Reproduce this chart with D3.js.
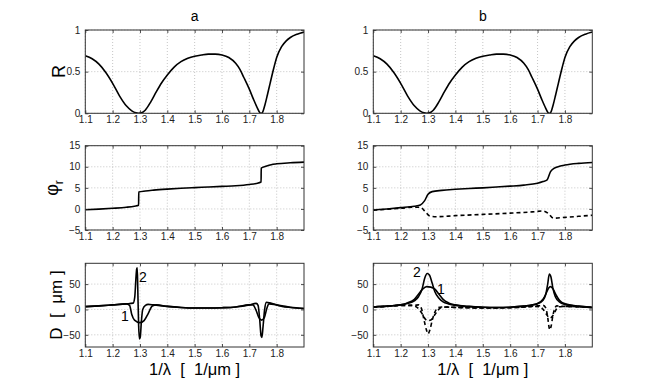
<!DOCTYPE html>
<html>
<head>
<meta charset="utf-8">
<script src="https://cdn.jsdelivr.net/npm/d3@7"></script>
<style>
  html, body { margin: 0; padding: 0; background: #fff; }
  svg { display: block; font-family: "Liberation Sans", Arial, Helvetica, sans-serif; }
  .pre { white-space: pre; }
</style>
</head>
<body>
<svg id="chart" width="654" height="391"></svg>
<script>
// ---------------- data ----------------
const xTicks = [1.1, 1.2, 1.3, 1.4, 1.5, 1.6, 1.7, 1.8];
const rTicks = [0, 0.5, 1];
const phiTicks = [-5, 0, 5, 10, 15];
const dTicks = [-50, 0, 50];
const panelTitles = ["a", "b"];

// reflectance R (same in a and b)
const reflect = [[1.100,0.69],[1.125,0.655],[1.150,0.59],[1.175,0.49],[1.200,0.36],[1.225,0.21],[1.250,0.09],[1.270,0.03],[1.285,0.005],[1.295,0.0],[1.305,0.005],[1.320,0.04],[1.340,0.14],[1.360,0.26],[1.380,0.37],[1.400,0.46],[1.425,0.555],[1.450,0.62],[1.475,0.66],[1.500,0.685],[1.525,0.70],[1.550,0.71],[1.575,0.71],[1.600,0.70],[1.625,0.67],[1.650,0.60],[1.665,0.53],[1.680,0.43],[1.700,0.29],[1.715,0.17],[1.730,0.06],[1.738,0.01],[1.743,0.0],[1.748,0.01],[1.757,0.10],[1.766,0.22],[1.776,0.36],[1.790,0.55],[1.800,0.67],[1.818,0.80],[1.835,0.87],[1.850,0.91],[1.875,0.95],[1.900,0.975]];

// phase, panel a (jumps)
const phiA = [[1.100,-0.2],[1.150,-0.05],[1.200,0.15],[1.250,0.4],[1.280,0.65],[1.2950,0.85],[1.2955,4.0],[1.320,4.25],[1.350,4.45],[1.400,4.7],[1.450,4.9],[1.500,5.05],[1.550,5.2],[1.600,5.35],[1.650,5.5],[1.700,5.8],[1.725,6.05],[1.7430,6.4],[1.7435,9.7],[1.760,10.1],[1.780,10.5],[1.800,10.7],[1.850,10.95],[1.900,11.1]];
// phase, panel b solid and dashed
const phiB = [[1.100,-0.25],[1.150,0.0],[1.200,0.3],[1.250,0.65],[1.272,0.95],[1.287,1.9],[1.300,3.5],[1.315,4.1],[1.350,4.4],[1.400,4.65],[1.450,4.85],[1.500,5.0],[1.550,5.2],[1.600,5.4],[1.650,5.65],[1.700,6.1],[1.720,6.5],[1.735,6.9],[1.747,8.8],[1.760,9.6],[1.780,10.1],[1.800,10.4],[1.850,10.8],[1.900,11.0]];
const phiBdash = [[1.100,-0.3],[1.150,-0.1],[1.200,0.15],[1.250,0.4],[1.272,0.4],[1.290,-0.65],[1.307,-1.7],[1.330,-1.85],[1.400,-1.6],[1.500,-1.3],[1.600,-1.0],[1.680,-0.7],[1.720,-0.5],[1.740,-1.1],[1.758,-2.2],[1.800,-2.0],[1.850,-1.75],[1.900,-1.5]];

// D, panel a
const dA1 = [[1.100,5.5],[1.150,7],[1.200,9],[1.250,11],[1.262,8],[1.270,-10],[1.280,-21],[1.300,-26],[1.315,-22],[1.330,-8],[1.345,7],[1.360,9],[1.400,6],[1.450,4],[1.500,3],[1.550,3],[1.600,3.5],[1.650,5],[1.700,9],[1.713,9],[1.725,-2],[1.735,-16],[1.745,-21],[1.755,-16],[1.764,2],[1.772,11],[1.790,10],[1.820,6],[1.850,4],[1.900,2]];
const dA2 = [[1.100,5.5],[1.150,7],[1.200,9],[1.250,11],[1.275,12.5],[1.281,25],[1.285,60],[1.288,80],[1.290,82],[1.292,40],[1.295,-30],[1.298,-58],[1.301,-55],[1.305,-25],[1.310,0],[1.320,8],[1.330,10],[1.350,9],[1.400,6],[1.450,4],[1.500,3],[1.550,3],[1.600,3.5],[1.650,5],[1.700,9],[1.725,12],[1.732,8],[1.738,-20],[1.743,-52],[1.746,-55],[1.750,-35],[1.756,0],[1.762,14],[1.775,13],[1.800,9],[1.850,4.5],[1.900,2]];

// D, panel b (solid peaks and dashed dips)
const dB1 = [[1.100,5],[1.150,6.5],[1.200,9],[1.225,13],[1.250,20],[1.265,30],[1.280,40],[1.295,45],[1.310,44],[1.325,40],[1.340,30],[1.355,20],[1.375,13],[1.400,9],[1.450,6],[1.500,4.5],[1.550,4],[1.600,4.5],[1.650,6.5],[1.700,12],[1.720,20],[1.730,30],[1.740,42],[1.748,45],[1.757,40],[1.768,28],[1.780,18],[1.800,11],[1.850,6.5],[1.900,4]];
const dB2 = [[1.100,5],[1.150,6.5],[1.200,9],[1.225,12],[1.250,17],[1.265,25],[1.278,40],[1.288,62],[1.297,71],[1.305,68],[1.315,52],[1.325,35],[1.340,22],[1.355,15],[1.375,11],[1.400,8],[1.450,5.5],[1.500,4.5],[1.550,4],[1.600,4.5],[1.650,6.5],[1.700,11],[1.720,18],[1.730,30],[1.737,50],[1.743,70],[1.749,64],[1.756,42],[1.765,25],[1.780,15],[1.800,10],[1.850,6],[1.900,4]];
const dB1dash = [[1.100,5],[1.150,6],[1.200,8],[1.240,8],[1.255,6],[1.268,0],[1.280,-10],[1.290,-19],[1.300,-22],[1.310,-21],[1.320,-14],[1.332,-5],[1.345,3],[1.370,5],[1.400,4],[1.500,3],[1.600,3.5],[1.690,6],[1.710,5],[1.722,-1],[1.733,-10],[1.745,-17],[1.755,-13],[1.765,-3],[1.775,5],[1.800,6],[1.900,4]];
const dB2dash = [[1.100,5],[1.150,6],[1.200,8],[1.250,8],[1.265,9],[1.275,3],[1.285,-20],[1.295,-42],[1.300,-48],[1.307,-40],[1.315,-22],[1.325,-5],[1.335,3],[1.350,5],[1.400,4],[1.500,3],[1.600,3.5],[1.700,7],[1.720,8],[1.730,3],[1.737,-15],[1.742,-35],[1.745,-40],[1.750,-32],[1.756,-12],[1.763,2],[1.770,7],[1.800,6],[1.900,4]];

// ---------------- layout ----------------
const svg = d3.select("#chart");
const cols = [[85.3, 304.0], [373.3, 592.3]];
const rows = [[30.0, 113.3], [145.7, 230.0], [263.3, 347.0]];
const xDomain = [1.1, 1.9];
const yDomains = [[0, 1], [-5, 15], [-74, 91]];
const yTickSets = [rTicks, phiTicks, dTicks];
const fmt = d => d < 0 ? "\u2212" + Math.abs(d) : String(d);

const panels = [
  {c:0, r:0, series:[{d:reflect}]},
  {c:1, r:0, series:[{d:reflect}]},
  {c:0, r:1, series:[{d:phiA}]},
  {c:1, r:1, series:[{d:phiB},{d:phiBdash, dash:true}]},
  {c:0, r:2, series:[{d:dA1},{d:dA2}]},
  {c:1, r:2, series:[{d:dB1},{d:dB2},{d:dB1dash, dash:true},{d:dB2dash, dash:true}]}
];

panels.forEach((p, i) => {
  const [x0, x1] = cols[p.c];
  const [y0, y1] = rows[p.r];
  const x = d3.scaleLinear().domain(xDomain).range([x0, x1]);
  const y = d3.scaleLinear().domain(yDomains[p.r]).range([y1, y0]);
  const g = svg.append("g");
  const yt = yTickSets[p.r];

  // grid
  g.selectAll(".gx").data(xTicks).join("line")
    .attr("x1", d => x(d)).attr("x2", d => x(d)).attr("y1", y0).attr("y2", y1)
    .attr("stroke", "#b8b8b8").attr("stroke-width", 0.8).attr("stroke-dasharray", "1,2");
  g.selectAll(".gy").data(yt).join("line")
    .attr("x1", x0).attr("x2", x1).attr("y1", d => y(d)).attr("y2", d => y(d))
    .attr("stroke", "#b8b8b8").attr("stroke-width", 0.8).attr("stroke-dasharray", "1,2");

  // curves
  const clipId = "clip" + i;
  svg.append("clipPath").attr("id", clipId).append("rect")
    .attr("x", x0).attr("y", y0).attr("width", x1 - x0).attr("height", y1 - y0);
  const line = d3.line().x(d => x(d[0])).y(d => y(d[1])).curve(d3.curveMonotoneX);
  p.series.forEach(s => {
    g.append("path").attr("d", line(s.d)).attr("fill", "none")
      .attr("stroke", "#000").attr("stroke-width", 1.6)
      .attr("stroke-dasharray", s.dash ? "4,3" : null)
      .attr("clip-path", `url(#${clipId})`);
  });

  // axes
  g.append("g").attr("transform", `translate(0,${y1})`)
    .call(d3.axisBottom(x).tickValues(xTicks).tickFormat(fmt).tickSize(-3).tickPadding(3));
  g.append("g").attr("transform", `translate(${x0},0)`)
    .call(d3.axisLeft(y).tickValues(yt).tickFormat(fmt).tickSize(-3).tickPadding(5));
  g.append("g").attr("transform", `translate(0,${y0})`)
    .call(d3.axisTop(x).tickValues(xTicks).tickFormat("").tickSize(-3));
  g.append("g").attr("transform", `translate(${x1},0)`)
    .call(d3.axisRight(y).tickValues(yt).tickFormat("").tickSize(-3));
  g.selectAll(".domain").remove();
  g.selectAll(".tick line").attr("stroke", "#222").attr("stroke-width", 0.8);
  g.selectAll(".tick text").attr("fill", "#222").style("font-size", "10px")
    .style("font-family", '"Liberation Sans", Arial, sans-serif');

  // box
  g.append("rect").attr("x", x0).attr("y", y0).attr("width", x1 - x0).attr("height", y1 - y0)
    .attr("fill", "none").attr("stroke", "#333").attr("stroke-width", 1);
});

// titles
svg.selectAll(".title").data(panelTitles).join("text")
  .attr("x", (d, i) => (cols[i][0] + cols[i][1]) / 2).attr("y", 21)
  .attr("text-anchor", "middle").style("font-size", "14px").text(d => d);

// y labels
const yLab = (txt, cx, cy, size) => svg.append("text").attr("class", "pre")
  .attr("transform", `translate(${cx},${cy}) rotate(-90)`)
  .attr("text-anchor", "middle").style("font-size", size + "px").text(txt);
yLab("R", 65, 71.5, 18);
const phiLab = svg.append("text")
  .attr("transform", `translate(58,188) rotate(-90)`)
  .attr("text-anchor", "middle").style("font-size", "18px");
phiLab.append("tspan").text("\u03c6");
phiLab.append("tspan").attr("dy", 5).style("font-size", "12px").text("r");
yLab("D  [  \u03bcm ]", 62, 305, 17);

// x labels
cols.forEach(c => {
  svg.append("text").attr("class", "pre").attr("x", (c[0] + c[1]) / 2).attr("y", 375)
    .attr("text-anchor", "middle").style("font-size", "16.5px")
    .text("1/\u03bb  [  1/\u03bcm ]");
});

// curve labels
const curveLabels = [
  {t:"2", x:143, y:282}, {t:"1", x:125, y:321},
  {t:"2", x:417, y:277}, {t:"1", x:441, y:294}
];
svg.selectAll(".cl").data(curveLabels).join("text")
  .attr("x", d => d.x).attr("y", d => d.y).attr("text-anchor", "middle")
  .attr("fill", "#000").style("font-size", "14px").text(d => d.t);
</script>
</body>
</html>
